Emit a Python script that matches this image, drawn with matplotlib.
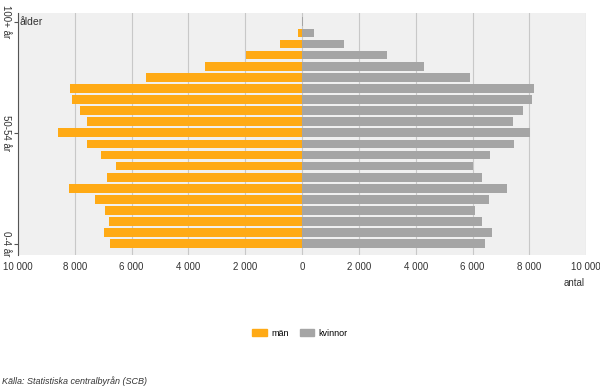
import numpy as np
import matplotlib
matplotlib.use("Agg")
from matplotlib import pyplot as plt
from matplotlib.patches import Patch

# age groups, youngest first
age_groups = ["0-4 år", "5-9 år", "10-14 år", "15-19 år", "20-24 år", "25-29 år",
              "30-34 år", "35-39 år", "40-44 år", "45-49 år", "50-54 år", "55-59 år",
              "60-64 år", "65-69 år", "70-74 år", "75-79 år", "80-84 år", "85-89 år",
              "90-94 år", "95-99 år", "100+ år"]
men = [6760, 6970, 6785, 6950, 7300, 8210, 6855, 6560, 7090, 7560, 8585, 7560,
       7810, 8090, 8170, 5500, 3435, 1975, 765, 155, 10]
women = [6430, 6680, 6315, 6080, 6570, 7220, 6315, 6020, 6620, 7465, 8010, 7430,
         7760, 8080, 8170, 5910, 4300, 2990, 1480, 410, 30]
shown_labels = ["0-4 år", "50-54 år", "100+ år"]
x_ticks = [-10000, -8000, -6000, -4000, -2000, 0, 2000, 4000, 6000, 8000, 10000]

ORANGE = "#FFAA15"
GRAY = "#A5A5A5"

plt.rcParams["font.family"] = ["Liberation Sans", "DejaVu Sans"]

fig = plt.figure(figsize=(6.0, 3.91), dpi=100)
ax = fig.add_axes([0.03, 0.348, 0.947, 0.619])
ax.set_facecolor("#F0F0F0")

y = np.arange(len(age_groups))
ax.barh(y, -np.array(men), height=0.78, color=ORANGE, zorder=3)
ax.barh(y, women, height=0.78, color=GRAY, zorder=3)

ax.set_xlim(-10000, 10000)
ax.set_ylim(-1.0, 20.8)
ax.set_xticks(x_ticks)
ax.set_xticklabels([f"{abs(v):,}".replace(",", " ") for v in x_ticks],
                   fontsize=7, color="#333333")
ax.tick_params(axis="x", length=0, pad=5)
ax.grid(axis="x", color="#C8C8C8", linewidth=0.8, zorder=1)

idx = [age_groups.index(l) for l in shown_labels]
ax.set_yticks(idx)
ax.set_yticklabels(shown_labels, rotation=-90, va="center", fontsize=7,
                   color="#333333")
ax.tick_params(axis="y", length=3, pad=2, color="#555555")

for s in ["top", "right", "bottom"]:
    ax.spines[s].set_visible(False)
ax.spines["left"].set_color("#555555")
ax.spines["left"].set_linewidth(0.8)

ax.text(0.002, 0.985, "ålder", transform=ax.transAxes, fontsize=7.5,
        va="top", ha="left", color="#333333")
fig.text(0.975, 0.275, "antal", fontsize=7, ha="right", va="center",
         color="#333333")

handles = [Patch(color=ORANGE, label="män"), Patch(color=GRAY, label="kvinnor")]
fig.legend(handles=handles, loc="center", bbox_to_anchor=(0.5, 0.148), ncol=2,
           frameon=False, fontsize=6.5, handlelength=1.6, handleheight=0.7,
           columnspacing=1.2, handletextpad=0.5)

fig.text(0.004, 0.025, "Källa: Statistiska centralbyrån (SCB)", fontsize=6.5,
         style="italic", ha="left", va="center", color="#333333")

fig.savefig("out.png", dpi=100)
